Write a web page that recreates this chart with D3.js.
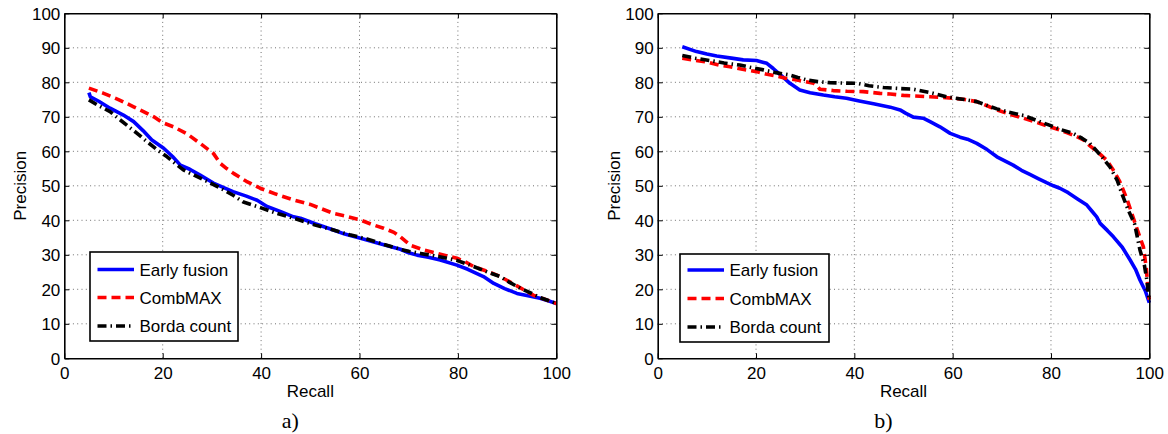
<!DOCTYPE html>
<html>
<head>
<meta charset="utf-8">
<script src="https://cdn.jsdelivr.net/npm/d3@7"></script>
<style>
  html, body { margin: 0; padding: 0; background: #fff; }
  svg { display: block; }
  text { font-family: "Liberation Sans", Arial, Helvetica, sans-serif; fill: #000; }
</style>
</head>
<body>
<svg id="chart" width="1168" height="434"></svg>
<script>
// ---------- data ----------
const xTicks = [0, 20, 40, 60, 80, 100];
const yTicks = [0, 10, 20, 30, 40, 50, 60, 70, 80, 90, 100];
const seriesNames = ["Early fusion", "CombMAX", "Borda count"];
const panelLabels = ["a)", "b)"];
const xLabel = "Recall";
const yLabel = "Precision";

// panel a) — [recall, precision]
const aEarlyFusion = [[5,77],[5.3,75.8],[7,74.5],[9.3,72.5],[12,70.5],[14.1,68.6],[16,66],[17.8,63.3],[20.2,60.9],[22,58.5],[23.6,56],[25.5,54.8],[27.6,53.1],[30.3,50.8],[34.3,48.3],[37,47],[39.2,45.8],[41.2,44],[44,42.5],[46.6,41],[48,40.6],[51,39],[54.7,37.2],[57,36],[60.2,34.8],[64,33.3],[68.3,31.6],[70,30.6],[71.7,29.9],[74,29.3],[76.4,28.5],[79.8,27],[82,25.8],[85.2,23.7],[87.3,21.7],[89.5,20.2],[92,18.8],[94,18.2],[96.7,17.4],[98.5,16.6],[100,15.9]];
const aCombMAX = [[5,78.3],[8,76.8],[11,75],[14.1,72.9],[16,71.6],[18.2,70],[20,68.3],[22.2,67.1],[25,65],[27.6,62.3],[30.3,59.4],[31.7,56.5],[33,55],[34.4,53.6],[37,51.3],[39.8,49.3],[43,47.6],[46.6,45.9],[50,44.6],[54.7,42],[57,41.3],[60.2,40.1],[62.5,38.8],[64.9,37.7],[67,36.5],[68.3,35.2],[70.3,32.8],[73,31.4],[76,30.3],[79.8,29],[81.5,28],[83.2,26.6],[86,25.2],[88.6,23.7],[92,21],[95.3,18.3],[97.5,17.2],[100,15.9]];
const aBorda = [[5,74.9],[7,73.2],[9.3,71.5],[11,69.5],[12.7,67.6],[14.8,65.2],[16.8,62.8],[19,60.3],[20.9,58.4],[22.5,56.5],[24.2,54.6],[26.5,53],[29,51.3],[31.5,49.5],[34.4,47.2],[36.4,45.3],[40,43.6],[43.2,42],[47.3,40.3],[51,38.6],[54.7,37.2],[58,35.8],[61.5,34.6],[65,33],[68.3,31.6],[70,31],[72.4,30.4],[76,29.5],[79.8,28.4],[81.5,27.5],[83.2,26.6],[86,25],[88.6,23.7],[90.5,22],[92.7,20.3],[95,18.8],[96.7,17.6],[100,15.9]];

// panel b) — [recall, precision]
const bEarlyFusion = [[5,90.3],[7.9,88.9],[10,88.2],[12,87.6],[15,87],[17.4,86.5],[20.1,86.3],[22.2,85.5],[23.5,84],[24.2,83.1],[25.5,81.5],[26.9,79.7],[28.9,77.8],[31,77],[33.7,76.3],[36,75.8],[38.4,75.4],[41,74.6],[43.9,73.8],[47.3,72.8],[49.3,72],[50.5,71],[52,69.9],[54,69.6],[55.5,68.5],[57.4,67.1],[59.5,65.2],[61.5,64.1],[63,63.5],[64.9,62.3],[67,60.5],[69,58.4],[70.5,57.3],[72.3,56],[74,54.5],[75.7,53.3],[77.5,52],[79.1,50.9],[80.5,50],[81.8,49.3],[83.5,48],[85.4,46.2],[87.3,44.4],[88.3,42.7],[89.3,41],[90,39.1],[91.5,37],[92.7,35.2],[94.5,32.2],[96.1,28.5],[97.2,25.8],[98.1,22.7],[99.2,19.5],[100,16.1]];
const bCombMAX = [[5,87],[7.5,86.4],[10,85.9],[12.5,85],[14.7,84.5],[17.5,83.7],[20.1,83.1],[22,82.4],[24.2,81.8],[26,81.2],[28.3,80.7],[30,80.2],[31.7,79.7],[32.5,78.8],[33,78],[35.7,77.6],[38.5,77.4],[41.8,77.3],[45.2,76.8],[47.3,76.6],[50,76.2],[55.4,75.8],[60.1,75.4],[62.5,75],[64.9,74.4],[67,73.2],[69,72],[71.5,70.8],[74.4,69.6],[77,68.4],[79.8,67.1],[81.5,66.3],[83.2,65.4],[85,64.4],[86.6,63.3],[88,61.5],[89.5,59.8],[91.3,57.5],[92.7,54.5],[94,51.2],[95.5,46],[97,39.6],[98,35.5],[98.8,32.3],[99.4,26],[99.8,18.8],[100,17]];
const bBorda = [[5,87.8],[7.5,87],[10.6,86.3],[13.5,85.6],[16.7,85],[19,84.3],[21.5,83.6],[24,82.8],[26.9,82.1],[28.5,81.4],[30.3,80.7],[32.5,80.2],[35,79.9],[37.5,79.8],[40.5,79.7],[43,79],[45.9,78.5],[49,78.2],[52,78],[55.5,77],[58.8,75.8],[62,75.1],[64.9,74.4],[67,73.3],[69,72.3],[71.5,71.3],[74.4,70.4],[77,69],[79.8,67.5],[82,66.3],[84.5,65.2],[86.3,63.8],[87.9,62.3],[90,59],[92,55.5],[93.5,51.5],[94.4,47.8],[95.7,43],[97,39],[98.1,31.4],[99,27],[99.5,22.7],[100,16.5]];

const panelSeries = [
  [aEarlyFusion, aCombMAX, aBorda],
  [bEarlyFusion, bCombMAX, bBorda]
];

// ---------- styles / layout ----------
const styles = [
  { color: "#0000ff", dash: null },
  { color: "#ff0000", dash: "9,5" },
  { color: "#000000", dash: "9,4,1.5,4" }
];
const lineWidth = 3.6;
const fontSize = "17px";

const panels = [
  { left: 64.3, right: 556.3, top: 13.3, bottom: 358.3,
    legend: { x: 90, y: 252, w: 148, h: 89, rows: [269.5, 297.5, 326], lx1: 97.5, lx2: 134, tx: 139.5 } },
  { left: 657.7, right: 1149.3, top: 13.3, bottom: 358.3,
    legend: { x: 680, y: 254, w: 149, h: 88, rows: [270, 298.5, 327], lx1: 687.5, lx2: 724, tx: 729.5 } }
];

const svg = d3.select("#chart");

panels.forEach((p, pi) => {
  const x = d3.scaleLinear().domain([0, 100]).range([p.left, p.right]);
  const y = d3.scaleLinear().domain([0, 100]).range([p.bottom, p.top]);
  const g = svg.append("g");

  // grid (dotted)
  const grid = g.append("g");
  xTicks.slice(1, -1).forEach(t => {
    grid.append("line").attr("x1", x(t)).attr("x2", x(t)).attr("y1", p.top).attr("y2", p.bottom)
      .attr("stroke", "#707070").attr("stroke-width", 1).attr("stroke-dasharray", "1,3.3");
  });
  yTicks.slice(1, -1).forEach(t => {
    grid.append("line").attr("x1", p.left).attr("x2", p.right).attr("y1", y(t)).attr("y2", y(t))
      .attr("stroke", "#707070").attr("stroke-width", 1).attr("stroke-dasharray", "1,3.3");
  });

  // series
  const line = d3.line().x(d => x(d[0])).y(d => y(d[1]));
  panelSeries[pi].forEach((data, si) => {
    const path = g.append("path").datum(data).attr("d", line)
      .attr("fill", "none").attr("stroke", styles[si].color)
      .attr("stroke-width", lineWidth).attr("stroke-linejoin", "round");
    if (styles[si].dash) path.attr("stroke-dasharray", styles[si].dash);
  });

  // axes (MATLAB-style box with inward ticks)
  const tickLen = 5;
  const axB = g.append("g").attr("transform", `translate(0,${p.bottom})`)
    .call(d3.axisBottom(x).tickValues(xTicks).tickSizeInner(-tickLen).tickSizeOuter(0).tickPadding(9));
  const axT = g.append("g").attr("transform", `translate(0,${p.top})`)
    .call(d3.axisTop(x).tickValues(xTicks).tickSizeInner(-tickLen).tickSizeOuter(0).tickFormat(""));
  const axL = g.append("g").attr("transform", `translate(${p.left},0)`)
    .call(d3.axisLeft(y).tickValues(yTicks).tickSizeInner(-tickLen).tickSizeOuter(0).tickPadding(4));
  const axR = g.append("g").attr("transform", `translate(${p.right},0)`)
    .call(d3.axisRight(y).tickValues(yTicks).tickSizeInner(-tickLen).tickSizeOuter(0).tickFormat(""));
  [axB, axT, axL, axR].forEach(a => {
    a.select(".domain").attr("stroke", "#000").attr("stroke-width", 1.6);
    a.selectAll(".tick line").attr("stroke", "#000").attr("stroke-width", 1);
    a.selectAll("text").style("font-family", '"Liberation Sans", Arial, sans-serif')
      .style("font-size", fontSize).attr("fill", "#000");
  });
  axB.selectAll("text").attr("dy", "0.71em");
  axL.selectAll("text").attr("dy", "0.36em");

  // axis titles
  g.append("text").attr("x", (p.left + p.right) / 2).attr("y", 397)
    .attr("text-anchor", "middle").style("font-size", fontSize).text(xLabel);
  g.append("text")
    .attr("transform", `translate(${p.left - 38},${(p.top + p.bottom) / 2}) rotate(-90)`)
    .attr("text-anchor", "middle").style("font-size", fontSize).text(yLabel);

  // panel label
  g.append("text").attr("x", (p.left + p.right) / 2 - 20).attr("y", 428)
    .attr("text-anchor", "middle")
    .style("font-family", '"Liberation Serif", "Times New Roman", serif')
    .style("font-size", "22px").text(panelLabels[pi]);

  // legend
  const L = p.legend;
  const lg = g.append("g");
  lg.append("rect").attr("x", L.x).attr("y", L.y).attr("width", L.w).attr("height", L.h)
    .attr("fill", "#fff").attr("stroke", "#000").attr("stroke-width", 1.6);
  seriesNames.forEach((name, si) => {
    const ln = lg.append("line").attr("x1", L.lx1).attr("x2", L.lx2)
      .attr("y1", L.rows[si]).attr("y2", L.rows[si])
      .attr("stroke", styles[si].color).attr("stroke-width", lineWidth);
    if (styles[si].dash) ln.attr("stroke-dasharray", styles[si].dash);
    lg.append("text").attr("x", L.tx).attr("y", L.rows[si]).attr("dy", "0.36em")
      .style("font-size", fontSize).text(name);
  });
});
</script>
</body>
</html>
